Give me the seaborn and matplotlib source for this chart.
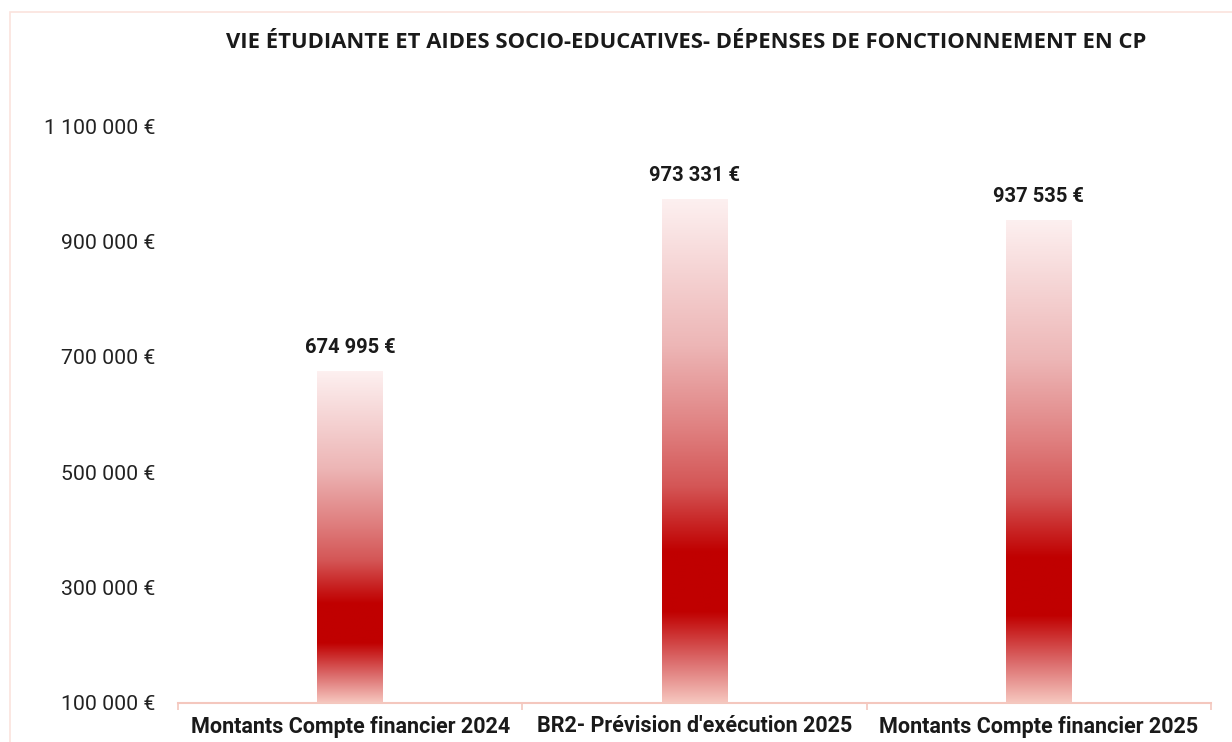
import numpy as np
import pandas as pd
import matplotlib
matplotlib.use("Agg")
import matplotlib.pyplot as plt
import seaborn as sns
from matplotlib.colors import LinearSegmentedColormap
from matplotlib.patches import Rectangle
from matplotlib.ticker import FuncFormatter, FixedLocator

categories = ["Montants Compte financier 2024",
              "BR2- Prévision d'exécution 2025",
              "Montants Compte financier 2025"]
values = [674995, 973331, 937535]
y_ticks = [100000, 300000, 500000, 700000, 900000, 1100000]
title = "VIE ÉTUDIANTE ET AIDES SOCIO-EDUCATIVES- DÉPENSES DE FONCTIONNEMENT EN CP"

sns.set_theme(style="white")
plt.rcParams["font.family"] = ["Roboto", "DejaVu Sans"]

def euro(v, pos=None):
    return f"{int(v):,}".replace(",", " ") + " €"

df = pd.DataFrame({"cat": categories, "val": values})

fig = plt.figure(figsize=(12.32, 7.42), dpi=100)
ax = fig.add_axes([178 / 1232, 39 / 742, 1033 / 1232, 577 / 742])

sns.barplot(data=df, x="cat", y="val", ax=ax, width=0.19, color="#C00000")
ax.set_ylim(100000, 1100000)
ax.set_xlim(-0.5, 2.5)

# vertical gradient fill (light top -> dark red -> light bottom)
grad = LinearSegmentedColormap.from_list("bar", [
    (0.0, "#FDF0F0"), (0.29, "#EDB6B6"), (0.45, "#E08282"), (0.57, "#D45656"),
    (0.64, "#C92727"), (0.70, "#C00000"), (0.82, "#C00000"), (0.92, "#DC6E6E"),
    (1.0, "#F6C6BE")])
g = np.linspace(0, 1, 256).reshape(-1, 1)
y0 = ax.get_ylim()[0]
for p, v in zip(ax.patches, values):
    x0, w = p.get_x(), p.get_width()
    p.set_facecolor("none")
    p.set_edgecolor("none")
    im = ax.imshow(g, cmap=grad, aspect="auto", extent=[x0, x0 + w, y0, v],
                   origin="upper", zorder=2, interpolation="bilinear")
    im.set_clip_path(p)
    ax.text(x0 + w / 2, v + 24000, euro(v), ha="center", va="bottom",
            fontsize=14.5, fontweight="bold", color="#1a1a1a")
ax.set_ylim(100000, 1100000)
ax.set_xlim(-0.5, 2.5)

ax.yaxis.set_major_locator(FixedLocator(y_ticks))
ax.yaxis.set_major_formatter(FuncFormatter(euro))
ax.tick_params(axis="y", length=0, pad=16.5, labelsize=15.3, labelcolor="#222222")
ax.tick_params(axis="x", which="major", length=0, pad=9, labelsize=15.5, labelcolor="#1a1a1a")
for lab in ax.get_xticklabels():
    lab.set_fontweight("bold")
ax.xaxis.set_minor_locator(FixedLocator([-0.5, 0.5, 1.5, 2.5]))
ax.tick_params(axis="x", which="minor", bottom=True, length=5, width=1.2,
               color="#F4C7BE", direction="out")
ax.set_xlabel("")
ax.set_ylabel("")
sns.despine(ax=ax, left=True, top=True, right=True)
ax.spines["bottom"].set_color("#F4C7BE")
ax.spines["bottom"].set_linewidth(1.5)
ax.grid(False)

fig.text(686 / 1232, 1 - 42 / 742, title, ha="center", va="center",
         fontsize=15.8, fontweight="bold", color="#1a1a1a",
         family=["Open Sans", "DejaVu Sans"])

fig.add_artist(Rectangle((10 / 1232, -0.05), 1.1, 1 - 12 / 742 + 0.05,
                         transform=fig.transFigure, fill=False,
                         edgecolor="#FBE3DD", linewidth=1.2))

fig.savefig("out.png", dpi=100)
